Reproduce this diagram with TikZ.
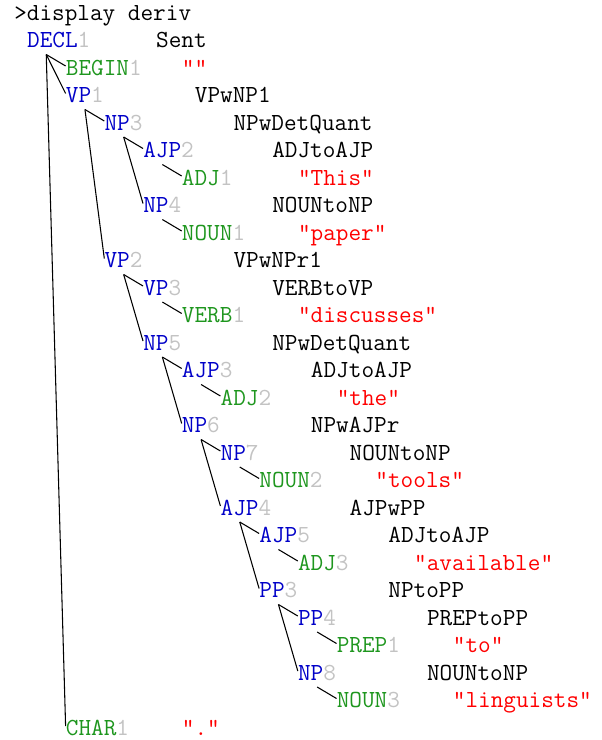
\documentclass[tikz,border=0pt]{standalone}
\usepackage{fontspec}
\usetikzlibrary{calc}
\definecolor{ntb}{RGB}{0,0,200}
\definecolor{tgr}{RGB}{30,150,30}
\definecolor{numg}{RGB}{195,195,195}
\definecolor{strr}{RGB}{255,0,0}
\newcommand\monofs{\ttfamily\fontsize{18.4}{18.4}\selectfont}
\newcommand\NT[2]{{\color{ntb}#1}{\color{numg}#2}}
\newcommand\TM[2]{{\color{tgr}#1}{\color{numg}#2}}
\newcommand\treeedge[2]{\draw[link] ($(#1.base west)+(19.35,7)$) -- ($(#2.base west)+(0,-9)$);}
\begin{document}
\begin{tikzpicture}[x=0.75pt,y=-0.75pt,
  lab/.style={anchor=base west, inner sep=0pt, font=\monofs},
  rule/.style={lab, text=black},
  str/.style={lab, text=strr},
  link/.style={line width=0.8pt, black}]
\useasboundingbox (0,0) rectangle (602,740);
% header
\node[rule] (hdr) at ({14+12.9*0},{20+27.5*0}) {>display deriv};
% tree labels
\node[lab] (decl)  at ({14+12.9*1},{20+27.5*1}) {\NT{DECL}{1}};
\node[lab] (begin) at ({14+12.9*4},{20+27.5*2}) {\TM{BEGIN}{1}};
\node[lab] (vpa)   at ({14+12.9*4},{20+27.5*3}) {\NT{VP}{1}};
\node[lab] (npc)   at ({14+12.9*7},{20+27.5*4}) {\NT{NP}{3}};
\node[lab] (ajpb)  at ({14+12.9*10},{20+27.5*5}) {\NT{AJP}{2}};
\node[lab] (adja)  at ({14+12.9*13},{20+27.5*6}) {\TM{ADJ}{1}};
\node[lab] (npd)   at ({14+12.9*10},{20+27.5*7}) {\NT{NP}{4}};
\node[lab] (nouna) at ({14+12.9*13},{20+27.5*8}) {\TM{NOUN}{1}};
\node[lab] (vpb)   at ({14+12.9*7},{20+27.5*9}) {\NT{VP}{2}};
\node[lab] (vpc)   at ({14+12.9*10},{20+27.5*10}) {\NT{VP}{3}};
\node[lab] (verba) at ({14+12.9*13},{20+27.5*11}) {\TM{VERB}{1}};
\node[lab] (npe)   at ({14+12.9*10},{20+27.5*12}) {\NT{NP}{5}};
\node[lab] (ajpc)  at ({14+12.9*13},{20+27.5*13}) {\NT{AJP}{3}};
\node[lab] (adjb)  at ({14+12.9*16},{20+27.5*14}) {\TM{ADJ}{2}};
\node[lab] (npf)   at ({14+12.9*13},{20+27.5*15}) {\NT{NP}{6}};
\node[lab] (npg)   at ({14+12.9*16},{20+27.5*16}) {\NT{NP}{7}};
\node[lab] (nounb) at ({14+12.9*19},{20+27.5*17}) {\TM{NOUN}{2}};
\node[lab] (ajpd)  at ({14+12.9*16},{20+27.5*18}) {\NT{AJP}{4}};
\node[lab] (ajpe)  at ({14+12.9*19},{20+27.5*19}) {\NT{AJP}{5}};
\node[lab] (adjc)  at ({14+12.9*22},{20+27.5*20}) {\TM{ADJ}{3}};
\node[lab] (ppc)   at ({14+12.9*19},{20+27.5*21}) {\NT{PP}{3}};
\node[lab] (ppd)   at ({14+12.9*22},{20+27.5*22}) {\NT{PP}{4}};
\node[lab] (prepa) at ({14+12.9*25},{20+27.5*23}) {\TM{PREP}{1}};
\node[lab] (nph)   at ({14+12.9*22},{20+27.5*24}) {\NT{NP}{8}};
\node[lab] (nounc) at ({14+12.9*25},{20+27.5*25}) {\TM{NOUN}{3}};
\node[lab] (chara) at ({14+12.9*4},{20+27.5*26}) {\TM{CHAR}{1}};
% rules and strings
\node[rule] (decl-r)  at ({14+12.9*11},{20+27.5*1}) {Sent};
\node[str]  (begin-r) at ({14+12.9*13},{20+27.5*2}) {""};
\node[rule] (vpa-r)   at ({14+12.9*14},{20+27.5*3}) {VPwNP1};
\node[rule] (npc-r)   at ({14+12.9*17},{20+27.5*4}) {NPwDetQuant};
\node[rule] (ajpb-r)  at ({14+12.9*20},{20+27.5*5}) {ADJtoAJP};
\node[str]  (adja-r)  at ({14+12.9*22},{20+27.5*6}) {"This"};
\node[rule] (npd-r)   at ({14+12.9*20},{20+27.5*7}) {NOUNtoNP};
\node[str]  (nouna-r) at ({14+12.9*22},{20+27.5*8}) {"paper"};
\node[rule] (vpb-r)   at ({14+12.9*17},{20+27.5*9}) {VPwNPr1};
\node[rule] (vpc-r)   at ({14+12.9*20},{20+27.5*10}) {VERBtoVP};
\node[str]  (verba-r) at ({14+12.9*22},{20+27.5*11}) {"discusses"};
\node[rule] (npe-r)   at ({14+12.9*20},{20+27.5*12}) {NPwDetQuant};
\node[rule] (ajpc-r)  at ({14+12.9*23},{20+27.5*13}) {ADJtoAJP};
\node[str]  (adjb-r)  at ({14+12.9*25},{20+27.5*14}) {"the"};
\node[rule] (npf-r)   at ({14+12.9*23},{20+27.5*15}) {NPwAJPr};
\node[rule] (npg-r)   at ({14+12.9*26},{20+27.5*16}) {NOUNtoNP};
\node[str]  (nounb-r) at ({14+12.9*28},{20+27.5*17}) {"tools"};
\node[rule] (ajpd-r)  at ({14+12.9*26},{20+27.5*18}) {AJPwPP};
\node[rule] (ajpe-r)  at ({14+12.9*29},{20+27.5*19}) {ADJtoAJP};
\node[str]  (adjc-r)  at ({14+12.9*31},{20+27.5*20}) {"available"};
\node[rule] (ppc-r)   at ({14+12.9*29},{20+27.5*21}) {NPtoPP};
\node[rule] (ppd-r)   at ({14+12.9*32},{20+27.5*22}) {PREPtoPP};
\node[str]  (prepa-r) at ({14+12.9*34},{20+27.5*23}) {"to"};
\node[rule] (nph-r)   at ({14+12.9*32},{20+27.5*24}) {NOUNtoNP};
\node[str]  (nounc-r) at ({14+12.9*34},{20+27.5*25}) {"linguists"};
\node[str]  (chara-r) at ({14+12.9*13},{20+27.5*26}) {"."};
% connectors
\treeedge{decl}{begin}
\treeedge{decl}{vpa}
\treeedge{decl}{chara}
\treeedge{vpa}{npc}
\treeedge{vpa}{vpb}
\treeedge{npc}{ajpb}
\treeedge{npc}{npd}
\treeedge{ajpb}{adja}
\treeedge{npd}{nouna}
\treeedge{vpb}{vpc}
\treeedge{vpb}{npe}
\treeedge{vpc}{verba}
\treeedge{npe}{ajpc}
\treeedge{npe}{npf}
\treeedge{ajpc}{adjb}
\treeedge{npf}{npg}
\treeedge{npf}{ajpd}
\treeedge{npg}{nounb}
\treeedge{ajpd}{ajpe}
\treeedge{ajpd}{ppc}
\treeedge{ajpe}{adjc}
\treeedge{ppc}{ppd}
\treeedge{ppc}{nph}
\treeedge{ppd}{prepa}
\treeedge{nph}{nounc}
\end{tikzpicture}
\end{document}
